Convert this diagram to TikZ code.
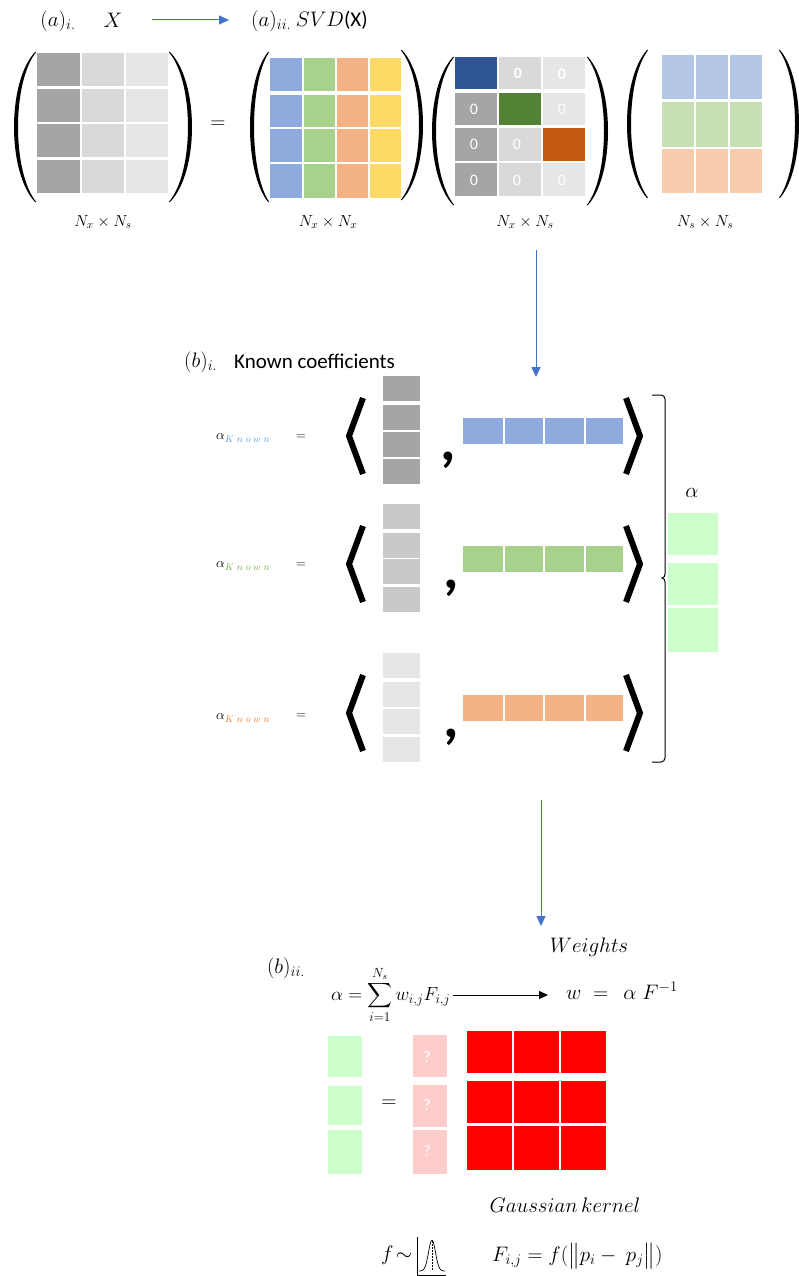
\RequirePackage{fix-cm}
\documentclass[tikz,border=0pt]{standalone}
\usepackage{exscale}
\usepackage{fontspec}
\setmainfont{Carlito}
\usetikzlibrary{arrows.meta}
\definecolor{gA}{HTML}{A5A5A5}
\definecolor{gB}{HTML}{D9D9D9}
\definecolor{gC}{HTML}{E6E6E6}
\definecolor{gM}{HTML}{C9C9C9}
\definecolor{ublue}{HTML}{8FAADC}
\definecolor{ugreen}{HTML}{A9D18E}
\definecolor{uorange}{HTML}{F4B183}
\definecolor{uyellow}{HTML}{FFD966}
\definecolor{sblue}{HTML}{2F5597}
\definecolor{sgreen}{HTML}{548235}
\definecolor{sorange}{HTML}{C55A11}
\definecolor{vblue}{HTML}{B4C7E7}
\definecolor{vgreen}{HTML}{C5E0B4}
\definecolor{vorange}{HTML}{F8CBAD}
\definecolor{palegreen}{HTML}{CCFFCC}
\definecolor{palepink}{HTML}{FFCCCC}
\definecolor{pureRed}{HTML}{FF0000}
\definecolor{arrowblue}{HTML}{4472C4}
\definecolor{kblue}{HTML}{5B9BD5}
\definecolor{kgreen}{HTML}{70AD47}
\definecolor{korange}{HTML}{ED7D31}

\newcommand{\drawparen}[5]{%
 \pgfmathsetmacro\pcA{(4*#2-#1)/3}%
 \pgfmathsetmacro\pcB{(4*(#2+#5)-(#1+0.3*#5))/3}%
 \pgfmathsetmacro\phq{0.2*(#4-#3)}%
 \fill (#1,#3) .. controls (\pcA,#3+\phq) and (\pcA,#4-\phq) .. (#1,#4) -- (#1+0.3*#5,#4) .. controls (\pcB,#4-\phq) and (\pcB,#3+\phq) .. (#1+0.3*#5,#3) -- cycle;}
\newcommand{\grayvec}[5]{\foreach \t in {#2,#3,#4,#5} \fill[#1] (383,\t) rectangle (420,\t+25);}
\newcommand{\barvec}[2]{\foreach \a/\b in {463/503,505/543,545/584,586/623} \fill[#1] (\a,#2) rectangle (\b,#2+26);}
\newcommand{\chevrons}[1]{%
 \draw[chev] (363,#1-38) -- (349,#1) -- (363,#1+38);
 \draw[chev] (626,#1-38) -- (640,#1) -- (626,#1+38);}

\tikzset{
 lbl/.style={inner sep=0pt, font=\fontsize{21}{23}\selectfont},
 dimlbl/.style={inner sep=0pt, font=\fontsize{16}{17}\selectfont},
 bluearrow/.style={draw=arrowblue, line width=1pt, -{Triangle[length=10pt,width=9pt]}},
 chev/.style={line width=6pt, line join=miter},
 zero/.style={text=white, font=\fontsize{16}{16}\selectfont, inner sep=0pt},
 qmark/.style={text=white, font=\fontsize{16}{16}\selectfont, inner sep=0pt},
 bigcomma/.style={inner sep=0pt, font=\fontsize{60}{60}\selectfont\bfseries},
 klbl/.style={inner sep=0pt, anchor=west, font=\fontsize{14}{15}\selectfont},
 smalleq/.style={inner sep=0pt, font=\fontsize{13}{13}\selectfont},
}

\begin{document}
\begin{tikzpicture}[x=1pt,y=-1pt]
\useasboundingbox (0,0) rectangle (799,1276);

% ---------- (a) top row ----------
\node[lbl] (ai) at (58,21) {$(a)_{i.}$};
\node[lbl] (X) at (113,20) {$X$};
\node[lbl, anchor=west] (aii) at (251,21) {$(a)_{ii.}$ $SVD$(X)};
\draw[bluearrow, shorten <=29pt, shorten >=22pt] (X.east) -- (X.east -| aii.west);

% matrix X
\foreach \ya/\yb in {53/86,89/122,124/157,160/193}{
  \fill[gA] (37,\ya) rectangle (80,\yb);
  \fill[gB] (82,\ya) rectangle (124,\yb);
  \fill[gC] (126,\ya) rectangle (168,\yb);
}
\drawparen{35}{14}{52}{202}{4}
\drawparen{170}{192}{52}{202}{-4}
\node[lbl] (eqtop) at (218,125) {$=$};
\node[dimlbl] (dX) at (103,222) {$N_x \times N_s$};

% matrix U
\foreach \ya/\yb in {58/91,95/127,129/162,164/198}{
  \fill[ublue] (270,\ya) rectangle (302,\yb);
  \fill[ugreen] (304,\ya) rectangle (335,\yb);
  \fill[uorange] (337,\ya) rectangle (368,\yb);
  \fill[uyellow] (370,\ya) rectangle (401,\yb);
}
\drawparen{268}{250}{52}{202}{4}
\drawparen{402}{423}{50}{200}{-4}
\node[dimlbl] (dU) at (328,222) {$N_x \times N_x$};

% matrix S
\fill[sblue] (455,57) rectangle (497,89);
\fill[gB] (499,57) rectangle (541,89);
\fill[gC] (543,57) rectangle (585,89);
\fill[gA] (455,93) rectangle (497,125);
\fill[sgreen] (499,93) rectangle (541,125);
\fill[gC] (543,93) rectangle (585,125);
\fill[gA] (455,128) rectangle (497,161);
\fill[gB] (499,128) rectangle (541,161);
\fill[sorange] (543,128) rectangle (585,161);
\fill[gA] (455,163) rectangle (497,196);
\fill[gB] (499,163) rectangle (541,196);
\fill[gC] (543,163) rectangle (585,196);
\node[zero] (z12) at (518,73) {\textbf{0}};
\node[zero] (z13) at (562,74) {\textbf{0}};
\node[zero] (z21) at (474,109) {0};
\node[zero] (z23) at (562,109) {0};
\node[zero] (z31) at (474,144) {0};
\node[zero] (z32) at (517,144) {0};
\node[zero] (z41) at (474,180) {0};
\node[zero] (z42) at (517,180) {0};
\node[zero] (z43) at (562,180) {0};
\drawparen{453}{432}{57}{205}{4}
\drawparen{588}{608}{57}{205}{-4}
\node[dimlbl] (dS) at (525,222) {$N_x \times N_s$};

% matrix V
\foreach \ya/\yb/\cc in {55/99/vblue,102/147/vgreen,149/193/vorange}{
  \fill[\cc] (662,\ya) rectangle (694,\yb);
  \fill[\cc] (696,\ya) rectangle (728,\yb);
  \fill[\cc] (730,\ya) rectangle (762,\yb);
}
\drawparen{647}{627}{50}{198}{4}
\drawparen{780}{799}{50}{198}{-4}
\node[dimlbl] (dV) at (705,222) {$N_s \times N_s$};

% arrow down to (b)i
\coordinate (arrAstart) at (536,250);
\coordinate (arrAend) at (536,377);
\draw[bluearrow] (arrAstart) -- (arrAend);

% ---------- (b)i ----------
\node[lbl, anchor=west] (bi) at (184,362) {$(b)_{i.}$};
\node[inner sep=0pt, anchor=west, font=\fontsize{21}{23}\selectfont] (kc) at (234,361) {Known coefficients};

\node[klbl] (ak1) at (216,438) {$\alpha_{\color{kblue}K\;n\;o\;w\;n}$};
\node[klbl] (ak2) at (216,566) {$\alpha_{\color{kgreen}K\;n\;o\;w\;n}$};
\node[klbl] (ak3) at (216,718) {$\alpha_{\color{korange}K\;n\;o\;w\;n}$};
\node[smalleq] (e1) at (301,437) {$=$};
\node[smalleq] (e2) at (301,565) {$=$};
\node[smalleq] (e3) at (301,716) {$=$};

\grayvec{gA}{376}{405}{432}{459}
\grayvec{gM}{504}{533}{559}{587}
\grayvec{gC}{653}{682}{709}{737}
\barvec{ublue}{418}
\barvec{ugreen}{546}
\barvec{uorange}{695}
\chevrons{436}
\chevrons{564}
\chevrons{713}
\node[bigcomma] (c1) at (448,460) {,};
\node[bigcomma] (c2) at (451,588) {,};
\node[bigcomma] (c3) at (451,737) {,};

% brace and alpha vector
\draw[line width=1pt] (652,395) -- (661,395) to[out=0,in=90] (665,399) -- (665,574)
  to[out=-90,in=0] (662,578) to[out=0,in=90] (665,582) -- (665,758)
  to[out=-90,in=0] (661,762) -- (652,762);
\node[lbl] (alpha) at (692,493) {$\alpha$};
\fill[palegreen] (668,513) rectangle (718,555);
\fill[palegreen] (668,563) rectangle (718,605);
\fill[palegreen] (668,608) rectangle (718,652);

% arrow down to (b)ii
\coordinate (arrBstart) at (541,800);
\coordinate (arrBend) at (541,926);
\draw[bluearrow] (arrBstart) -- (arrBend);

% ---------- (b)ii ----------
\node[lbl] (bii) at (286,968) {$(b)_{ii.}$};
\node[anchor=west, inner sep=0pt, font=\fontsize{19}{21}\selectfont] (sum) at (331,995) {$\displaystyle\alpha = \sum_{i=1}^{N_s} w_{i,j}F_{i,j}$};
\node[lbl] (weights) at (589,947) {$Weights$};
\node[lbl, anchor=west] (wt) at (566,991) {$w\;=\;\,\alpha\;F^{-1}$};
\draw[line width=0.8pt, -{Triangle[length=9pt,width=8pt]}, shorten <=3pt, shorten >=18pt] (sum.east) -- (sum.east -| wt.west);

\foreach \ya/\yb in {1036/1077,1086/1125,1130/1174}
  \fill[palegreen] (328,\ya) rectangle (362,\yb);
\node[lbl] (eqb) at (389,1104) {$=$};
\fill[palepink] (413,1035) rectangle (447,1077);
\fill[palepink] (413,1085) rectangle (447,1127);
\fill[palepink] (413,1130) rectangle (447,1174);
\node[qmark] (q1) at (427,1057) {?};
\node[qmark] (q2) at (427,1105) {?};
\node[qmark] (q3) at (427,1151) {?};
\foreach \ya/\yb in {1031/1073,1081/1123,1126/1170}{
  \fill[pureRed] (467,\ya) rectangle (512,\yb);
  \fill[pureRed] (514,\ya) rectangle (559,\yb);
  \fill[pureRed] (561,\ya) rectangle (606,\yb);
}

\node[lbl] (gk) at (565,1205) {$Gaussian\,kernel$};
\node[lbl, anchor=west] (fsim) at (381,1255) {$f\!\sim$};
\draw[line width=0.7pt] (417,1237) -- (417,1275) -- (446,1275);
\draw[line width=0.7pt, domain=-13:13, samples=50] plot ({432+\x},{1271-31*exp(-(\x*\x)/24)});
\draw[dashed, line width=0.5pt, dash pattern=on 1.5pt off 1.5pt] (432,1241) -- (432,1271);
\node[lbl, anchor=west] (Fij) at (492,1256) {$F_{i,j} = f(\big\|p_i -\ p_j\big\|)$};
\end{tikzpicture}
\end{document}
